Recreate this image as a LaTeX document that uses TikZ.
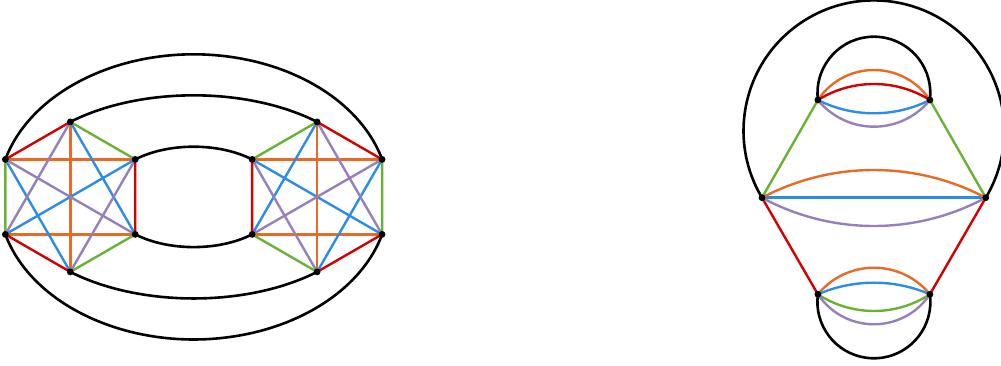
\documentclass[tikz,border=0pt]{standalone}
\begin{document}
\begin{tikzpicture}[x=1pt,y=1pt,
  blk/.style={black,line width=2.6pt},
  ed/.style={line width=2.4pt},
  vdot/.style={black}]
\definecolor{myred}{RGB}{210,0,0}
\definecolor{mygreen}{RGB}{104,178,52}
\definecolor{myorange}{RGB}{232,106,36}
\definecolor{myblue}{RGB}{44,140,232}
\definecolor{mypurple}{RGB}{150,128,188}
\useasboundingbox (0,0) rectangle (1001,366);
% ---------- left figure ----------
\coordinate (C0) at (193.7,169.1);
\coordinate (L1) at (5.35,206.6);
\coordinate (L2) at (70.3,244.1);
\coordinate (L3) at (135.25,206.6);
\coordinate (L4) at (135.25,131.6);
\coordinate (L5) at (70.3,94.1);
\coordinate (L6) at (5.35,131.6);
\coordinate (R1) at (252.15,206.6);
\coordinate (R2) at (317.1,244.1);
\coordinate (R3) at (382.05,206.6);
\coordinate (R4) at (382.05,131.6);
\coordinate (R5) at (317.1,94.1);
\coordinate (R6) at (252.15,131.6);
% black ellipse arcs
\draw[blk] (L1) arc[start angle=164.74, end angle=15.26, x radius=195.3pt, y radius=142.6pt];
\draw[blk] (L6) arc[start angle=195.26, end angle=344.74, x radius=195.3pt, y radius=142.6pt];
\draw[blk] (L2) arc[start angle=132.4, end angle=47.6, x radius=183pt, y radius=101.6pt];
\draw[blk] (L5) arc[start angle=227.6, end angle=312.4, x radius=183pt, y radius=101.6pt];
\draw[blk] (L3) arc[start angle=131.67, end angle=48.33, x radius=87.84pt, y radius=50.2pt];
\draw[blk] (L4) arc[start angle=228.33, end angle=311.67, x radius=87.84pt, y radius=50.2pt];
% left hexagon K6
\draw[ed,myorange] (L1) -- (L3) (L6) -- (L4) (L2) -- (L5);
\draw[ed,myblue] (L1) -- (L5) (L2) -- (L4) (L3) -- (L6);
\draw[ed,mypurple] (L1) -- (L4) (L2) -- (L6) (L3) -- (L5);
\draw[ed,myred] (L1) -- (L2) (L3) -- (L4) (L5) -- (L6);
\draw[ed,mygreen] (L2) -- (L3) (L4) -- (L5) (L6) -- (L1);
% right hexagon K6
\draw[ed,myorange] (R1) -- (R3) (R6) -- (R4) (R2) -- (R5);
\draw[ed,myblue] (R2) -- (R6) (R1) -- (R4) (R3) -- (R5);
\draw[ed,mypurple] (R2) -- (R4) (R1) -- (R5) (R3) -- (R6);
\draw[ed,mygreen] (R1) -- (R2) (R3) -- (R4) (R5) -- (R6);
\draw[ed,myred] (R2) -- (R3) (R4) -- (R5) (R6) -- (R1);
% ---------- right figure ----------
\coordinate (M1) at (762,168.3);
\coordinate (M2) at (985.8,168.3);
\coordinate (P1) at (817.9,266);
\coordinate (P2) at (929.9,266);
\coordinate (Q1) at (817.9,71.7);
\coordinate (Q2) at (929.9,71.7);
% black arcs
\draw[blk] (M1) arc[start angle=210.87, end angle=-30.87, radius=130.38pt];
\draw[blk] (P1) arc[start angle=187.02, end angle=-7.02, radius=56.42pt];
\draw[blk] (Q1) arc[start angle=172.37, end angle=367.63, radius=56.5pt];
% straight edges
\draw[ed,mygreen] (P1) -- (M1) (P2) -- (M2);
\draw[ed,myred] (M1) -- (Q1) (M2) -- (Q2);
\draw[ed,myblue] (M1) -- (M2);
% top group
\draw[ed,myorange] (P1) arc[start angle=146.36, end angle=33.64, radius=67.27pt];
\draw[ed,myred] (P1) arc[start angle=121.89, end angle=58.11, radius=106pt];
\draw[ed,myblue] (P1) arc[start angle=243.27, end angle=296.73, radius=124.5pt];
\draw[ed,mypurple] (P1) arc[start angle=219.02, end angle=320.98, radius=72.08pt];
% middle group
\draw[ed,myorange] (M1) arc[start angle=117.81, end angle=62.19, radius=239.7pt];
\draw[ed,mypurple] (M1) arc[start angle=241.6, end angle=298.4, radius=235.2pt];
% bottom group
\draw[ed,myorange] (Q1) arc[start angle=140.81, end angle=39.19, radius=72.25pt];
\draw[ed,myblue] (Q1) arc[start angle=113.41, end angle=66.59, radius=140.97pt];
\draw[ed,mygreen] (Q1) arc[start angle=236.79, end angle=303.21, radius=102.24pt];
\draw[ed,mypurple] (Q1) arc[start angle=213.64, end angle=326.36, radius=67.27pt];
% vertex dots
\foreach \v in {L1,L2,L3,L4,L5,L6,R1,R2,R3,R4,R5,R6,M1,M2,P1,P2,Q1,Q2}
  \fill[vdot] (\v) circle (3.4pt);
\end{tikzpicture}
\end{document}
